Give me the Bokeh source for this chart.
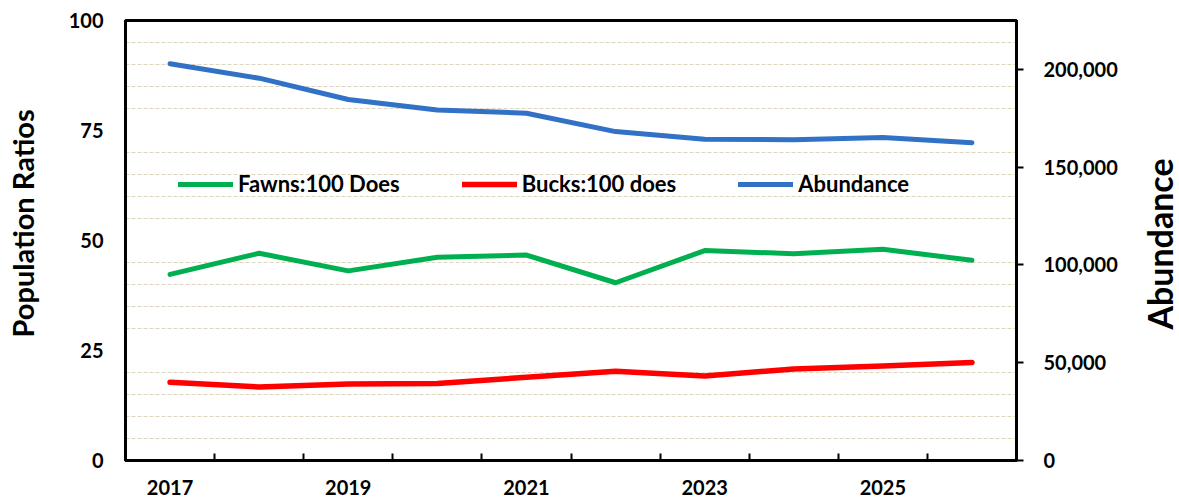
import math
from bokeh.plotting import figure
from bokeh.layouts import row
from bokeh.models import (Range1d, LinearAxis, FixedTicker, NumeralTickFormatter,
                          Legend, LegendItem, ColumnDataSource)
from bokeh.core.properties import value
from bokeh.embed import file_html
from bokeh.resources import INLINE

years = [2017, 2018, 2019, 2020, 2021, 2022, 2023, 2024, 2025, 2026]
fawns = [42.3, 47.1, 43.1, 46.2, 46.7, 40.4, 47.7, 47.0, 48.0, 45.5]
bucks = [17.8, 16.7, 17.4, 17.5, 18.9, 20.3, 19.2, 20.8, 21.5, 22.3]
abundance = [202900, 195500, 184600, 179200, 177600, 168200, 164300, 164000, 165200, 162500]
left_ticks = [0, 25, 50, 75, 100]
right_ticks = [0, 50000, 100000, 150000, 200000]
grid_ticks = [5, 10, 15, 20, 30, 35, 40, 45, 55, 60, 65, 70, 80, 85, 90, 95]
left_title = "Population Ratios"
right_title = "Abundance"

FONT = "Lato"
xpos = [i + 0.5 for i in range(len(years))]
src = ColumnDataSource(dict(x=xpos, fawns=fawns, bucks=bucks, abundance=abundance))

p = figure(width=1094, height=502, output_backend="svg", toolbar_location=None,
           x_range=Range1d(0, len(years)), y_range=Range1d(0, 100),
           min_border_left=81, min_border_right=122, min_border_top=20, min_border_bottom=42)
p.extra_y_ranges = {"abund": Range1d(0, 225000)}

p.outline_line_color = "black"
p.outline_line_width = 3
p.background_fill_color = "white"
p.border_fill_color = "white"

p.xgrid.visible = False
p.ygrid.ticker = FixedTicker(ticks=grid_ticks)
p.ygrid.grid_line_color = "#DDD6BC"
p.ygrid.grid_line_dash = "4 2"
p.ygrid.grid_line_width = 1

# x axis
p.xaxis.ticker = FixedTicker(ticks=[xpos[i] for i in range(0, len(years), 2)],
                             minor_ticks=list(range(1, len(years))))
p.xaxis.major_label_overrides = {xpos[i]: str(years[i]) for i in range(0, len(years), 2)}
p.xaxis.major_tick_in = 0
p.xaxis.major_tick_out = 0
p.xaxis.minor_tick_in = 7
p.xaxis.minor_tick_out = 0
p.xaxis.minor_tick_line_width = 2
p.xaxis.minor_tick_line_color = "black"
p.xaxis.axis_line_width = 3
p.xaxis.axis_line_color = "black"
p.xaxis.major_label_standoff = 19
p.xaxis.major_label_text_font = FONT
p.xaxis.major_label_text_font_style = "bold"
p.xaxis.major_label_text_font_size = "20px"
p.xaxis.major_label_text_color = "black"

# left axis
p.yaxis.ticker = FixedTicker(ticks=left_ticks)
p.yaxis.major_tick_in = 0
p.yaxis.major_tick_out = 0
p.yaxis.minor_tick_in = 0
p.yaxis.minor_tick_out = 0
p.yaxis.axis_line_width = 3
p.yaxis.axis_line_color = "black"
p.yaxis.major_label_standoff = 22
p.yaxis.major_label_text_font = FONT
p.yaxis.major_label_text_font_style = "bold"
p.yaxis.major_label_text_font_size = "20px"
p.yaxis.major_label_text_color = "black"

# right axis
ra = LinearAxis(y_range_name="abund", ticker=FixedTicker(ticks=right_ticks),
                formatter=NumeralTickFormatter(format="0,0"))
ra.major_tick_in = 0
ra.major_tick_out = 7
ra.major_tick_line_width = 2
ra.minor_tick_in = 0
ra.minor_tick_out = 0
ra.axis_line_width = 3
ra.axis_line_color = "black"
ra.major_label_standoff = 20
ra.major_label_text_font = FONT
ra.major_label_text_font_style = "bold"
ra.major_label_text_font_size = "20px"
ra.major_label_text_color = "black"
p.add_layout(ra, "right")

r_f = p.line("x", "fawns", source=src, line_color="#00B050", line_width=5,
             line_cap="round", line_join="round")
r_b = p.line("x", "bucks", source=src, line_color="#FF0000", line_width=5.5,
             line_cap="round", line_join="round")
r_a = p.line("x", "abundance", source=src, y_range_name="abund", line_color="#3272C6",
             line_width=5, line_cap="round", line_join="round")

legend = Legend(items=[LegendItem(label="Fawns:100 Does", renderers=[r_f]),
                       LegendItem(label="Bucks:100 does", renderers=[r_b]),
                       LegendItem(label="Abundance", renderers=[r_a])],
                orientation="horizontal", location=(53, 263),
                glyph_width=55, glyph_height=20, label_standoff=5, spacing=62,
                padding=0, margin=0, border_line_alpha=0, background_fill_alpha=0,
                label_text_font=FONT, label_text_font_style="bold",
                label_text_font_size="22px", label_text_color="black")
p.add_layout(legend)


def title_fig(width, text, xfrac, yval, size):
    f = figure(width=width, height=502, output_backend="svg", toolbar_location=None,
               x_range=Range1d(0, 1), y_range=p.y_range,
               min_border_left=0, min_border_right=0, min_border_top=20, min_border_bottom=42)
    f.axis.visible = False
    f.grid.visible = False
    f.outline_line_color = None
    f.background_fill_color = "white"
    f.border_fill_color = "white"
    f.text(x=[xfrac], y=[yval], text=[text], angle=math.pi / 2,
           text_align="center", text_baseline="middle",
           text_font=value(FONT), text_font_style="bold", text_font_size=size,
           text_color="black")
    return f


lt = title_fig(44, left_title, 0.5, 53.9, "29px")
rt = title_fig(41, right_title, 0.5, 49.2, "34px")

layout = row(lt, p, rt)
open("out.html", "w").write(file_html(layout, INLINE))
